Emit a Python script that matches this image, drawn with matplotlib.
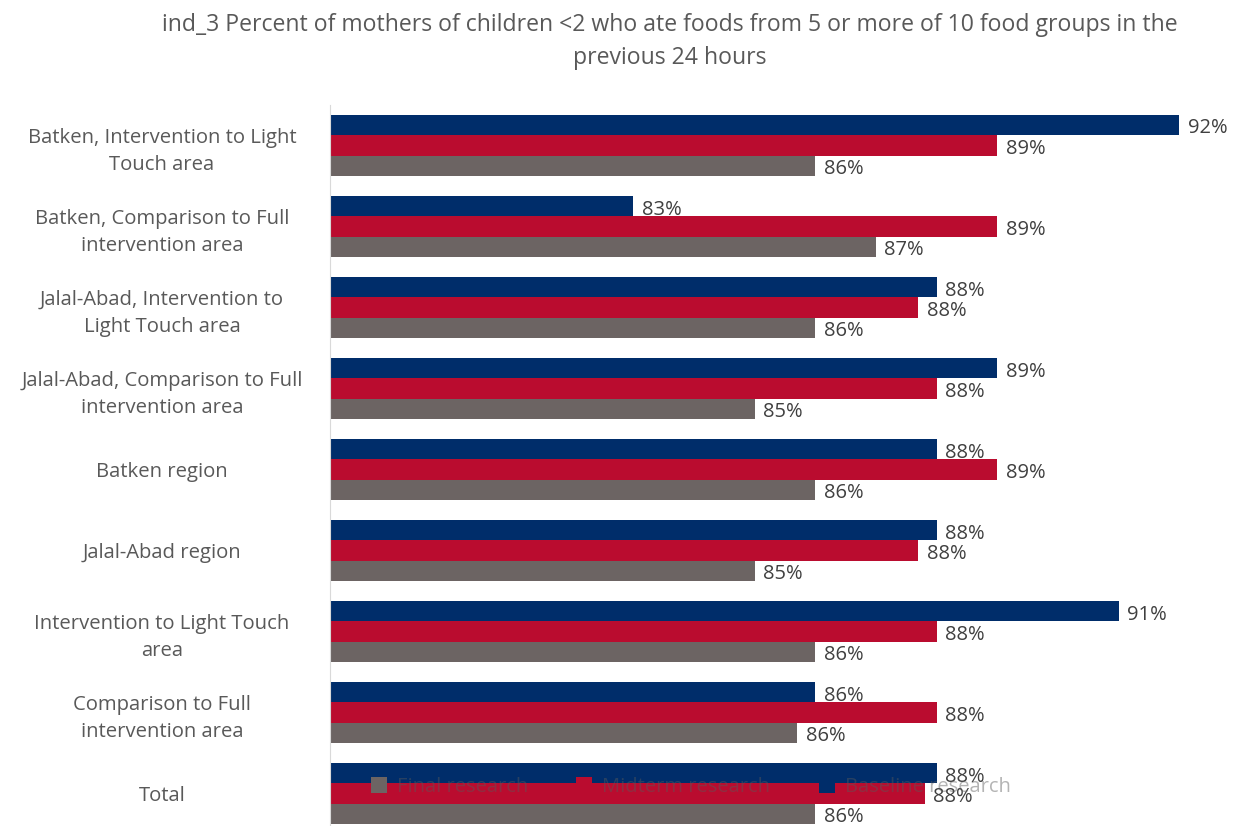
import numpy as np
import matplotlib.pyplot as plt

plt.rcParams['font.family'] = ['Open Sans', 'DejaVu Sans']

categories = [
    "Batken, Intervention to Light\nTouch area",
    "Batken, Comparison to Full\nintervention area",
    "Jalal-Abad, Intervention to\nLight Touch area",
    "Jalal-Abad, Comparison to Full\nintervention area",
    "Batken region",
    "Jalal-Abad region",
    "Intervention to Light Touch\narea",
    "Comparison to Full\nintervention area",
    "Total",
]
baseline = [92.0, 83.0, 88.0, 89.0, 88.0, 88.0, 91.0, 86.0, 88.0]
midterm = [89.0, 89.0, 87.7, 88.0, 89.0, 87.7, 88.0, 88.0, 87.8]
final = [86.0, 87.0, 86.0, 85.0, 86.0, 85.0, 86.0, 85.7, 86.0]

series = [
    ("Baseline research", baseline, "#002d6a"),
    ("Midterm research", midterm, "#ba0c2f"),
    ("Final research", final, "#6c6463"),
]

fig = plt.figure(figsize=(12.4, 8.26), dpi=100)
ax = fig.add_axes([330 / 1240, 0, 910 / 1240, 1 - 105 / 826])

y = np.arange(len(categories))
h = 0.25
x0 = 78
handles = {}
for i, (name, vals, col) in enumerate(series):
    pos = y + (i - 1) * h
    bars = ax.barh(pos, np.array(vals) - x0, left=x0, height=h, color=col,
                   zorder=2, label=name)
    handles[name] = bars
    for p, v in zip(pos, vals):
        ax.text(v + 0.14, p + 0.04, f"{v:.0f}%", va="center", ha="left",
                fontsize=14.5, color="#404040", zorder=3)

ax.set_xlim(x0, 93)
ax.set_ylim(8.4, -0.5)
ax.set_yticks(y)
ax.set_yticklabels(categories, fontsize=14.6, color="#595959",
                   ha="center", linespacing=1.45)
ax.tick_params(axis="y", length=0, pad=121)
ax.set_xticks([])
for s in ["top", "right", "bottom"]:
    ax.spines[s].set_visible(False)
ax.spines["left"].set_color("#d9d9d9")

fig.text(0.540, 1 - 25 / 826, "ind_3 Percent of mothers of children <2 who ate foods from 5 or more of 10 food groups in the",
         ha="center", va="center", fontsize=16.6, color="#595959")
fig.text(0.540, 1 - 58 / 826, "previous 24 hours",
         ha="center", va="center", fontsize=16.6, color="#595959")

order = ["Final research", "Midterm research", "Baseline research"]
leg = fig.legend([handles[n] for n in order], order, ncol=3,
                 loc="center", bbox_to_anchor=(0.557, 1 - 787 / 826),
                 frameon=False, fontsize=14.5, handlelength=0.8,
                 handleheight=0.8, columnspacing=2.4, handletextpad=0.5)
for t in leg.get_texts():
    t.set_color("#595959")
    t.set_alpha(0.45)

fig.savefig("out.png", dpi=100)
